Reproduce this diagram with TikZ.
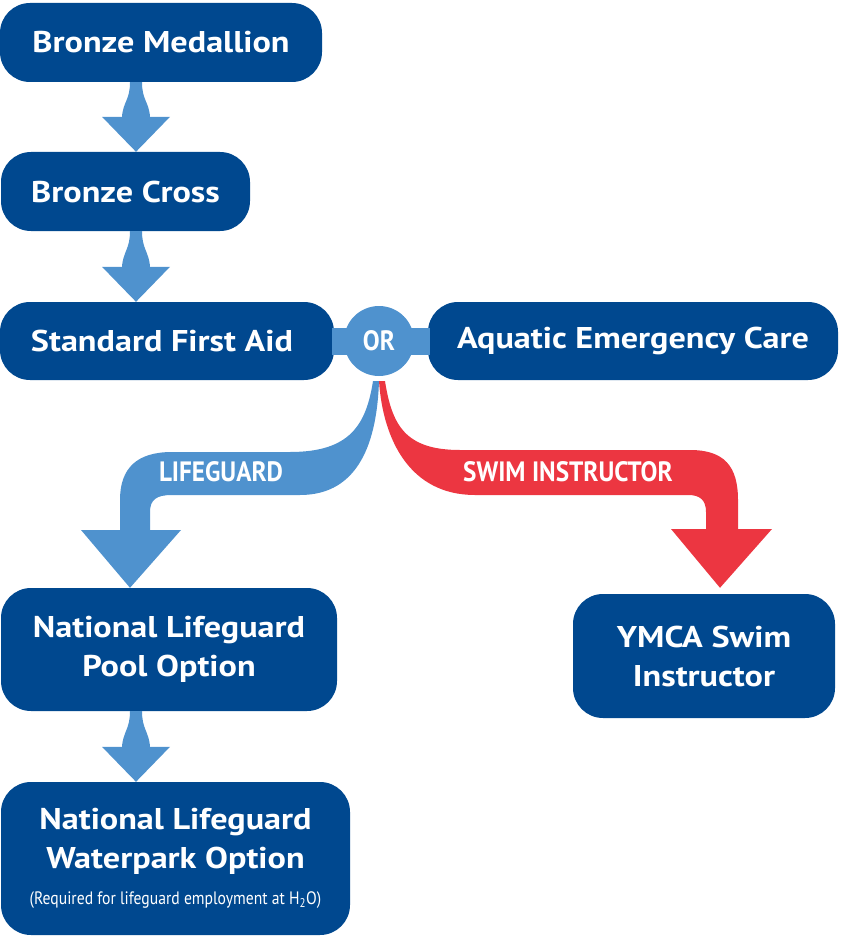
\documentclass[tikz,border=0pt]{standalone}
\usepackage{fontspec}
\setmainfont{PT Sans}
\newfontfamily\widefont[FakeStretch=1.14]{PT Sans}
\newfontfamily\condfont[FakeStretch=0.9]{PT Sans}
\newfontfamily\notefont[FakeStretch=0.87]{PT Sans}
\usepackage{tikz}
\usetikzlibrary{calc}
\definecolor{ymcablue}{HTML}{00488F}
\definecolor{arrowblue}{HTML}{4F92CE}
\definecolor{arrowred}{HTML}{EC3641}
\tikzset{
  stage/.style={fill=ymcablue,rounded corners=30pt,text=white,inner sep=0pt,align=center,
    font=\widefont\bfseries\fontsize{30}{39}\selectfont},
  pathlabel/.style={text=white,inner sep=0pt,font=\condfont\bfseries\fontsize{28}{30}\selectfont}
}
\newcommand{\stemarrow}[2]{%
  \path (136,0 |- #1.south) coordinate (s) (136,0 |- #2.north) coordinate (e);
  \fill[arrowblue] ($(s)+(-6,0)$) .. controls ($(s)+(-6,18)$) and ($(e)+(-13,-50)$) .. ($(e)+(-14,-35)$)
    -- ($(e)+(-34,-35)$) -- (e) -- ($(e)+(34,-35)$) -- ($(e)+(14,-35)$)
    .. controls ($(e)+(13,-50)$) and ($(s)+(6,18)$) .. ($(s)+(6,0)$) -- cycle;}

\begin{document}
\begin{tikzpicture}[x=1pt,y=-1pt]
    \useasboundingbox (0,0) rectangle (840,936);
    \node[stage,minimum width=322,minimum height=79] (med) at (161,42.5) {Bronze Medallion};
    \node[stage,minimum width=249,minimum height=79] (cross) at (125.5,191.5) {Bronze Cross};
    \node[stage,minimum width=334,minimum height=78] (sfa) at (167,341) {Standard First Aid\hspace*{10pt}};
    \node[stage,minimum width=410,minimum height=78] (aec) at (633,341) {Aquatic Emergency Care};
    \node[stage,minimum width=336,minimum height=123] (pool) at (169,649.5) {National Lifeguard\\Pool Option};
    \node[stage,minimum width=349,minimum height=153] (water) at (175.5,858.5) {National Lifeguard\\Waterpark Option\\[-3pt]%
      {\notefont\mdseries\fontsize{18}{22}\selectfont (Required for lifeguard employment at H\textsubscript{2}O)}};
    \node[stage,minimum width=262,minimum height=124] (ymca) at (704,656) {YMCA Swim\\Instructor};

    \stemarrow{med}{cross}
    \stemarrow{cross}{sfa}
    \stemarrow{pool}{water}

    \fill[arrowblue] ($(sfa.east)+(-2,-13)$) rectangle ($(aec.west)+(2,14)$);
    \node[circle,fill=arrowblue,minimum size=70,inner sep=0pt,text=white,
      font=\condfont\bfseries\fontsize{28}{30}\selectfont] (or) at (379,341) {OR};

    \coordinate (o) at ($(or.south)+(0,5)$);
    \coordinate (lgtip) at (130,0 |- pool.north);
    \coordinate (sitip) at ($(720,0 |- ymca.north)+(0,-6)$);
    \fill[arrowblue] ($(o)+(-6,0)$) .. controls (366,425) and (350,452) .. (290,452) -- (172,452)
      .. controls (137,452) and (120,468) .. (120,500) -- (120,530) -- (81,530) -- (lgtip) -- (181,530)
      -- (150,530) -- (150,512) .. controls (150,500) and (156,495) .. (172,495) -- (300,495)
      .. controls (360,495) and (377,440) .. (o) -- cycle;
    \fill[arrowred] ($(o)+(6,0)$) .. controls (392,425) and (405,450) .. (460,450) -- (690,450)
      .. controls (724,450) and (738,466) .. (738,500) -- (738,529) -- (772,529) -- (sitip) -- (671,529)
      -- (706,529) -- (706,512) .. controls (706,500) and (700,495) .. (688,495) -- (475,495)
      .. controls (410,495) and (383,440) .. (o) -- cycle;
    \node[pathlabel] (lg) at (221,472) {LIFEGUARD};
    \node[pathlabel] (si) at (568,472) {SWIM INSTRUCTOR};
\end{tikzpicture}
\end{document}
